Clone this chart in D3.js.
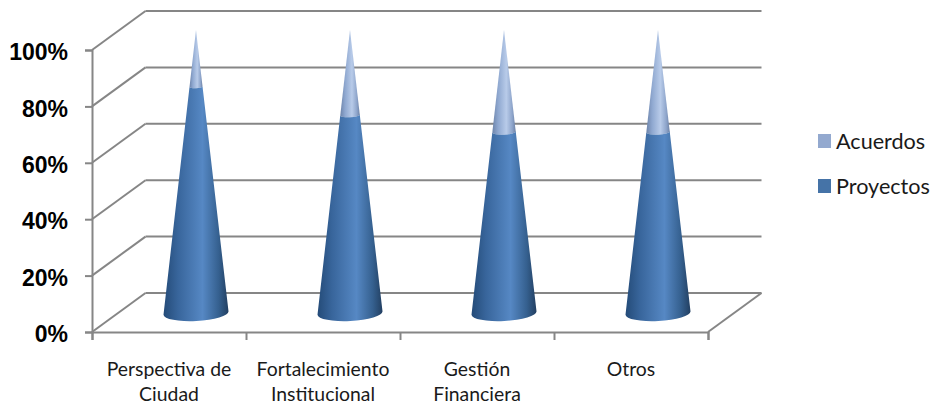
<!DOCTYPE html>
<html>
<head>
<meta charset="utf-8">
<script src="https://cdnjs.cloudflare.com/ajax/libs/d3/7.8.5/d3.min.js"></script>
<style>
  html, body { margin: 0; padding: 0; background: #fff; }
  svg { display: block; font-family: Lato, "Open Sans", sans-serif; }
</style>
</head>
<body>
<svg id="chart" width="935" height="407" role="img" aria-label="Proyectos y Acuerdos por categoría"></svg>
<script>
const categories = [['Perspectiva de', 'Ciudad'], ['Fortalecimiento', 'Institucional'], ['Gestión', 'Financiera'], ['Otros']];
const proyectos = [80, 70, 64, 64];
const acuerdos = [20, 30, 36, 36];
const yTicks = [0, 20, 40, 60, 80, 100];
const seriesNames = ['Acuerdos', 'Proyectos'];

const svg = d3.select('#chart');
const gridColor = '#868686';

// front plane of the fake 3D box, and how far the back wall is shifted
const xFront = d3.scaleLinear().domain([0, 4]).range([92, 708]);
const yFront = d3.scaleLinear().domain([0, 100]).range([332, 50]);
const depth = { x: 53.5, y: -39 };

// gradients for the cone shading
const defs = svg.append('defs');
function coneGradient(id, stops) {
  const g = defs.append('linearGradient').attr('id', id)
    .attr('x1', 0).attr('x2', 1).attr('y1', 0).attr('y2', 0);
  stops.forEach(s => g.append('stop').attr('offset', s[0]).attr('stop-color', s[1]));
}
coneGradient('gradProy', [[0, '#244b78'], [0.22, '#38659b'], [0.6, '#5688c4'], [0.85, '#35608f'], [1, '#223f61']]);
coneGradient('gradAcu', [[0, '#6d84aa'], [0.25, '#8fa8d0'], [0.6, '#b8cbe9'], [0.85, '#8ea5cb'], [1, '#6d82a6']]);

// walls
const grid = svg.append('g')
  .attr('fill', 'none')
  .attr('stroke', gridColor)
  .attr('stroke-width', 2);

grid.selectAll('.back').data(yTicks).enter().append('line')
  .attr('x1', xFront(0) + depth.x).attr('x2', xFront(4) + depth.x)
  .attr('y1', d => yFront(d) + depth.y).attr('y2', d => yFront(d) + depth.y);

grid.selectAll('.side').data(yTicks).enter().append('line')
  .attr('x1', xFront(0)).attr('x2', xFront(0) + depth.x)
  .attr('y1', d => yFront(d)).attr('y2', d => yFront(d) + depth.y);

grid.append('line')
  .attr('x1', xFront(4)).attr('x2', xFront(4) + depth.x)
  .attr('y1', yFront(0)).attr('y2', yFront(0) + depth.y);

// axes
const yAxis = svg.append('g')
  .attr('transform', `translate(${xFront(0)},0)`)
  .call(d3.axisLeft(yFront).tickValues(yTicks).tickSize(7).tickPadding(17).tickFormat(d => d + '%'));

const xAxis = svg.append('g')
  .attr('transform', `translate(0,${yFront(0)})`)
  .call(d3.axisBottom(xFront).tickValues(d3.range(5)).tickSize(8).tickFormat(''));

[yAxis, xAxis].forEach(a => {
  a.selectAll('.domain').attr('stroke', gridColor).attr('stroke-width', 2);
  a.selectAll('.tick line').attr('stroke', gridColor).attr('stroke-width', 2);
});

yAxis.selectAll('text')
  .style('font-size', '23px')
  .style('font-weight', 'bold')
  .attr('fill', '#000')
  .attr('dy', '0.42em');

// cones
const xCone = d3.scaleBand().domain(d3.range(4)).range([xFront(0) + 27, xFront(4) + 27]);
const yCone = d3.scaleLinear().domain([0, 100]).range([313, 30]);
const baseHalf = 32.5;
const baseRy = 8;
const tilt = -3;

const halfAt = v => baseHalf * (100 - v) / 100;
const tiltDy = w => w * Math.sin(tilt * Math.PI / 180);

// piece of a cone between two values, bottom edge bowed down, top edge follows the same ellipse
function conePiece(cx, from, to) {
  const w0 = halfAt(from), w1 = halfAt(to);
  const y0 = yCone(from), y1 = yCone(to);
  const r0 = baseRy * w0 / baseHalf, r1 = baseRy * w1 / baseHalf;
  let p = `M${cx - w0},${y0 - tiltDy(w0)}`;
  p += `A${w0},${r0} ${tilt} 0 0 ${cx + w0},${y0 + tiltDy(w0)}`;
  if (w1 > 0) {
    p += `L${cx + w1},${y1 + tiltDy(w1)}`;
    p += `A${w1},${r1} ${tilt} 0 1 ${cx - w1},${y1 - tiltDy(w1)}`;
  } else {
    p += `L${cx},${y1}`;
  }
  return p + 'Z';
}

const cones = svg.selectAll('.cone').data(categories).enter().append('g').attr('class', 'cone');

cones.append('path')
  .attr('fill', 'url(#gradAcu)')
  .attr('d', (d, i) => conePiece(xCone(i) + xCone.bandwidth() / 2, proyectos[i], proyectos[i] + acuerdos[i]));

cones.append('path')
  .attr('fill', 'url(#gradProy)')
  .attr('d', (d, i) => conePiece(xCone(i) + xCone.bandwidth() / 2, 0, proyectos[i]));

// category labels
const xLabel = d3.scaleBand().domain(d3.range(4)).range([xFront(0), xFront(4)]);
const labels = svg.selectAll('.cat').data(categories).enter().append('text')
  .attr('class', 'cat')
  .attr('text-anchor', 'middle')
  .attr('fill', '#1a1a1a')
  .style('font-size', '19.4px');

labels.selectAll('tspan').data((d, i) => d.map(t => ({ t, i }))).enter().append('tspan')
  .attr('x', d => xLabel(d.i) + xLabel.bandwidth() / 2)
  .attr('y', (d, j) => 376 + j * 25)
  .text(d => d.t);

// legend
const legendColors = d3.scaleOrdinal().domain(seriesNames).range(['#93a9cf', '#4573a7']);
const yLegend = d3.scalePoint().domain(seriesNames).range([141, 186]);
const legend = svg.selectAll('.legend').data(seriesNames).enter().append('g').attr('class', 'legend');

legend.append('rect')
  .attr('x', 818).attr('y', d => yLegend(d) - 7)
  .attr('width', 13).attr('height', 14)
  .attr('fill', d => legendColors(d));

legend.append('text')
  .attr('x', 836).attr('y', d => yLegend(d))
  .attr('dy', '0.35em')
  .attr('fill', '#1a1a1a')
  .style('font-size', '21.6px')
  .text(d => d);
</script>
</body>
</html>
